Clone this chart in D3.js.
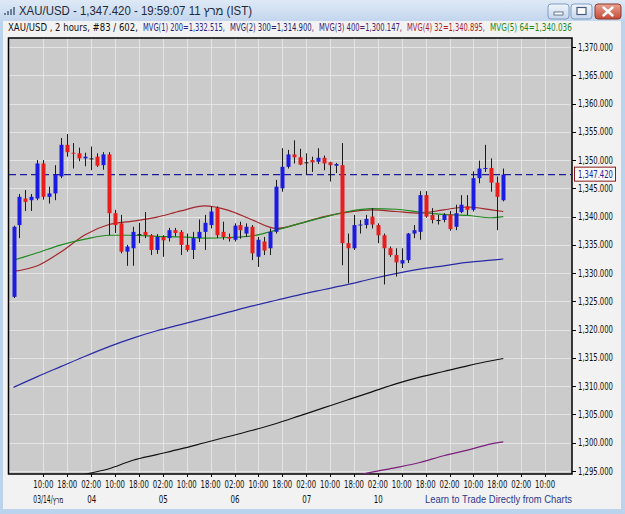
<!DOCTYPE html>
<html>
<head>
<meta charset="utf-8">
<script src="https://cdn.jsdelivr.net/npm/d3@7"></script>
<style>
body { margin: 0; background: #fff; }
svg { display: block; }
text { font-family: "Liberation Sans Narrow", "DejaVu Sans Condensed", "Liberation Sans", sans-serif; }
</style>
</head>
<body>
<div id="chart"></div>
<script>
// 2 hour candles, XAU/USD, 03 - 11 March 2014
var opens  = [1325.8,1338.5,1343.2,1342.9,1343.2,1349.4,1343.5,1344.1,1347.1,1352.7,1351.3,1351.2,1350.3,1350.3,1350.6,1349.1,1351.0,1340.6,1338.8,1333.8,
              1334.4,1336.9,1337.3,1336.7,1334.1,1336.4,1336.2,1337.6,1337.3,1335.0,1334.1,1336.2,1337.3,1338.5,1341.5,1337.3,1336.4,1335.9,1338.5,1337.0,
              1338.2,1332.9,1335.6,1334.4,1337.3,1345.0,1348.8,1351.0,1350.5,1349.6,1350.0,1349.7,1350.4,1349.6,1349.0,1349.1,1335.3,1334.4,1338.5,1338.5,
              1340.0,1338.5,1336.7,1334.4,1333.2,1331.7,1332.3,1337.0,1337.3,1343.8,1340.3,1339.4,1339.4,1340.4,1338.2,1340.8,1341.8,1341.2,1346.8,1348.5,
              1348.6,1346.0,1342.9];
var highs  = [1338.4,1344.0,1344.7,1344.0,1350.0,1350.0,1345.3,1349.1,1353.9,1354.6,1353.0,1352.2,1351.3,1352.4,1351.2,1351.4,1351.4,1341.2,1340.3,1335.0,
              1338.2,1338.9,1340.8,1336.9,1336.9,1336.7,1338.0,1338.0,1337.6,1337.0,1337.3,1339.5,1340.3,1341.8,1341.8,1339.1,1337.0,1338.8,1339.1,1338.8,
              1338.5,1336.4,1336.4,1337.9,1346.5,1352.1,1351.8,1353.5,1352.0,1351.2,1350.6,1352.1,1350.8,1349.7,1349.5,1353.0,1337.0,1340.3,1339.4,1340.3,
              1341.5,1338.8,1337.0,1334.7,1334.4,1334.4,1337.1,1338.5,1344.5,1344.5,1341.5,1340.3,1340.6,1341.0,1342.1,1343.8,1343.8,1348.0,1349.9,1352.7,
              1350.3,1347.1,1348.5];
var lows   = [1325.6,1336.2,1341.0,1341.0,1342.9,1343.0,1342.3,1342.9,1346.8,1350.6,1348.5,1349.8,1348.9,1348.2,1348.8,1348.3,1336.7,1337.1,1333.5,1331.3,
              1331.3,1335.3,1336.2,1333.2,1333.4,1332.9,1335.6,1336.5,1333.2,1333.8,1332.5,1335.5,1334.1,1337.9,1336.2,1335.9,1335.6,1335.6,1336.1,1336.4,
              1332.3,1331.1,1333.2,1333.2,1337.0,1344.4,1348.5,1349.4,1349.1,1347.4,1347.9,1349.3,1348.2,1346.2,1347.7,1331.4,1328.2,1334.1,1337.0,1337.9,
              1337.9,1335.3,1328.0,1332.9,1329.4,1330.9,1331.8,1336.2,1335.9,1339.8,1338.8,1338.6,1339.0,1337.5,1337.6,1340.6,1340.3,1340.9,1345.9,1347.9,
              1344.4,1337.6,1342.7];
var closes = [1338.2,1343.5,1342.6,1343.5,1349.4,1343.5,1344.1,1347.4,1352.7,1351.4,1351.2,1350.3,1350.6,1350.3,1349.0,1351.0,1340.6,1338.5,1333.8,1334.7,
              1337.3,1336.9,1336.7,1334.1,1336.4,1335.8,1337.6,1337.1,1335.0,1334.1,1336.2,1337.3,1338.9,1340.9,1336.7,1336.4,1336.1,1338.4,1337.6,1338.2,
              1333.5,1335.9,1334.0,1337.3,1345.3,1348.8,1351.0,1350.5,1349.2,1349.6,1349.6,1350.4,1349.4,1349.1,1349.3,1335.3,1334.4,1338.5,1338.6,1339.6,
              1338.6,1336.7,1334.4,1333.2,1331.9,1332.3,1337.0,1337.6,1343.8,1340.0,1339.4,1339.4,1340.3,1337.8,1340.6,1342.1,1341.2,1346.8,1348.5,1348.6,
              1346.0,1343.5,1347.42];

// moving averages read at every 4th bar
var maIndex = [0,4,8,12,16,20,24,28,32,36,40,44,48,52,56,60,64,68,72,76,80,82];
var ma200 = [1309.8,1311.7,1313.5,1315.3,1317.0,1318.5,1319.8,1320.9,1322.0,1323.1,1324.2,1325.2,1326.2,1327.1,1328.0,1329.0,1329.9,1330.7,1331.3,1331.9,1332.3,1332.5];
var ma300 = [null,null,1293.2,1294.4,1295.4,1296.9,1297.9,1298.9,1300.0,1301.1,1302.2,1303.4,1304.8,1306.2,1307.6,1309.0,1310.4,1311.6,1312.6,1313.6,1314.5,1314.9];
var ma400 = [null,null,null,null,null,null,null,null,null,null,null,null,null,null,1293.8,1294.8,1295.6,1296.5,1297.7,1298.7,1299.8,1300.15];
var ma32  = [1330.3,1331.3,1333.8,1336.8,1338.6,1339.2,1339.9,1341.0,1341.9,1341.1,1339.4,1337.9,1338.8,1340.0,1340.8,1341.2,1340.9,1340.6,1341.2,1341.7,1341.2,1340.9];
var ma64  = [1332.3,1333.6,1335.0,1336.0,1336.7,1336.7,1336.5,1336.4,1336.2,1336.3,1336.6,1337.6,1338.8,1339.9,1340.9,1341.4,1341.3,1340.8,1340.4,1340.2,1339.8,1340.0];

var lastPrice = 1347.42;

var timeTicks  = [5,9,13,17,21,25,29,33,37,41,45,49,53,57,61,65,69,73,77,81,85,89];
var timeLabels = ["10:00","18:00","02:00","10:00","18:00","02:00","10:00","18:00","02:00","10:00","18:00",
                  "02:00","10:00","18:00","02:00","10:00","18:00","02:00","10:00","18:00","02:00","10:00"];
var dayTicks  = [5,13,25,37,49,61];
var dayLabels = ["03/14/מרץ","04","05","06","07","10"];
var priceTicks = [1295,1300,1305,1310,1315,1320,1325,1330,1335,1340,1345,1350,1355,1360,1365,1370];

var headerText  = ["XAU/USD , 2 hours, #83 / 602,", "MVG(1) 200=1,332.515,", "MVG(2) 300=1,314.900,",
                   "MVG(3) 400=1,300.147,", "MVG(4) 32=1,340.895,", "MVG(5) 64=1,340.036"];
var headerColor = ["#111111", "#25258f", "#1f1f6a", "#452070", "#b01c1c", "#1f8a1f"];
var headerX     = [8, 143, 230, 319, 407, 490, 577];

var W = 625, H = 514;
var plot = {left: 9, right: 572, top: 38, bottom: 474};
var fmt = d3.format(",.3f");

var svg = d3.select("#chart").append("svg")
	.attr("width", W)
	.attr("height", H)
	.attr("viewBox", [0, 0, W, H]);

var defs = svg.append("defs");
var tg = defs.append("linearGradient").attr("id", "titleGrad").attr("x1", 0).attr("y1", 0).attr("x2", 0).attr("y2", 1);
tg.append("stop").attr("offset", "0%").attr("stop-color", "#dfe9f6");
tg.append("stop").attr("offset", "100%").attr("stop-color", "#c3d6ee");
var bg = defs.append("linearGradient").attr("id", "btnGrad").attr("x1", 0).attr("y1", 0).attr("x2", 0).attr("y2", 1);
bg.append("stop").attr("offset", "0%").attr("stop-color", "#f2f6fb");
bg.append("stop").attr("offset", "100%").attr("stop-color", "#c4d5ea");
var cg = defs.append("linearGradient").attr("id", "closeGrad").attr("x1", 0).attr("y1", 0).attr("x2", 0).attr("y2", 1);
cg.append("stop").attr("offset", "0%").attr("stop-color", "#e8a293");
cg.append("stop").attr("offset", "100%").attr("stop-color", "#c74a36");
defs.append("clipPath").attr("id", "plotClip")
	.append("rect")
		.attr("x", plot.left).attr("y", plot.top)
		.attr("width", plot.right - plot.left).attr("height", plot.bottom - plot.top);

// Window frame and title bar
svg.append("rect").attr("width", W).attr("height", H).attr("fill", "#bcd3ee");
svg.append("rect").attr("width", W).attr("height", 21).attr("fill", "url(#titleGrad)");
svg.append("rect").attr("x", 3).attr("y", 21).attr("width", W - 7).attr("height", H - 26).attr("fill", "#f2f2f2");

var icon = svg.append("g").attr("fill", "#6a7f99");
[2, 4, 6, 8].forEach(function(h, i) {
	icon.append("rect").attr("x", 4 + i * 3).attr("y", 15 - h).attr("width", 2).attr("height", h);
});

svg.append("text")
	.attr("x", 19)
	.attr("y", 15)
	.attr("textLength", 233)
	.attr("lengthAdjust", "spacingAndGlyphs")
	.style("font-family", "'Liberation Sans', sans-serif")
	.style("font-size", "12px")
	.attr("fill", "#1e2a3a")
	.text("XAU/USD - 1,347.420 - 19:59:07  11 מרץ (IST)");

// window buttons
svg.append("rect").attr("x", 548).attr("y", 4).attr("width", 21).attr("height", 15).attr("rx", 3)
	.attr("fill", "url(#btnGrad)").attr("stroke", "#7f9cc3");
svg.append("rect").attr("x", 554).attr("y", 12).attr("width", 9).attr("height", 3).attr("fill", "#fff").attr("stroke", "#46597a").attr("stroke-width", 0.8);
svg.append("rect").attr("x", 571).attr("y", 4).attr("width", 21).attr("height", 15).attr("rx", 3)
	.attr("fill", "url(#btnGrad)").attr("stroke", "#7f9cc3");
svg.append("rect").attr("x", 577).attr("y", 7.5).attr("width", 9).attr("height", 7).attr("fill", "#fff").attr("stroke", "#46597a").attr("stroke-width", 1.2);
svg.append("rect").attr("x", 595).attr("y", 4).attr("width", 26).attr("height", 15).attr("rx", 3)
	.attr("fill", "url(#closeGrad)").attr("stroke", "#8a3a2f");
svg.append("path").attr("d", "M603.5,7.5 L612.5,15.5 M612.5,7.5 L603.5,15.5")
	.attr("stroke", "#fff").attr("stroke-width", 2.4).attr("stroke-linecap", "round");

// header line with moving average values, each segment squeezed to its slot
svg.append("g")
	.selectAll("text")
	.data(headerText)
	.join("text")
		.attr("x", 0)
		.attr("y", 0)
		.style("font-size", "10px")
		.attr("fill", (d, i) => headerColor[i])
		.text(d => d)
		.attr("transform", function(d, i) {
			var want = headerX[i + 1] - headerX[i] - 5;
			var have = this.getComputedTextLength();
			return "translate(" + headerX[i] + ",31) scale(" + Math.min(1, want / have) + ",1)";
		});

// Scales
var x = d3.scaleLinear().domain([0, 82]).range([13.5, 503.3]);
var y = d3.scaleLinear().domain([1295, 1370]).range([471, 47]);

svg.append("rect")
	.attr("x", plot.left).attr("y", plot.top)
	.attr("width", plot.right - plot.left).attr("height", plot.bottom - plot.top)
	.attr("fill", "#cbcbcb");

// grid
var grid = svg.append("g").attr("stroke", "#e4e4e4").attr("stroke-width", 1);
grid.selectAll(".hg")
	.data(priceTicks)
	.join("line")
		.attr("x1", plot.left).attr("x2", plot.right)
		.attr("y1", d => Math.round(y(d)) + 0.5).attr("y2", d => Math.round(y(d)) + 0.5);
grid.selectAll(".vg")
	.data(timeTicks)
	.join("line")
		.attr("x1", d => Math.round(x(d)) + 0.5).attr("x2", d => Math.round(x(d)) + 0.5)
		.attr("y1", plot.top).attr("y2", plot.bottom);

// plot frame
svg.append("path")
	.attr("d", "M" + (plot.left - 0.5) + "," + plot.bottom + " V" + plot.top + " H" + plot.right + " V" + plot.bottom + " Z")
	.attr("fill", "none").attr("stroke", "#000").attr("stroke-width", 1.5);

// moving averages
var maSeries = [
	{v: ma200, c: "#2a2aa6"},
	{v: ma300, c: "#111111"},
	{v: ma400, c: "#7c1f7c"},
	{v: ma32,  c: "#a3262a"},
	{v: ma64,  c: "#1f8a1f"}
];
var maLine = d3.line()
	.defined(d => d[1] !== null)
	.x(d => x(d[0]))
	.y(d => y(d[1]))
	.curve(d3.curveMonotoneX);

svg.append("g")
	.attr("clip-path", "url(#plotClip)")
	.selectAll("path")
	.data(maSeries)
	.join("path")
		.attr("d", s => maLine(maIndex.map((k, i) => [k, s.v[i]])))
		.attr("fill", "none")
		.attr("stroke", s => s.c)
		.attr("stroke-width", 1.2);

// current price line
svg.append("line")
	.attr("x1", plot.left).attr("x2", plot.right)
	.attr("y1", y(lastPrice)).attr("y2", y(lastPrice))
	.attr("stroke", "#1d1d9a")
	.attr("stroke-width", 1.4)
	.attr("stroke-dasharray", "7,4");

// candles
var bars = d3.range(opens.length);
var candles = svg.append("g");
candles.selectAll(".wick")
	.data(bars)
	.join("line")
		.attr("class", "wick")
		.attr("x1", i => Math.round(x(i)) + 0.5).attr("x2", i => Math.round(x(i)) + 0.5)
		.attr("y1", i => y(highs[i])).attr("y2", i => y(lows[i]))
		.attr("stroke", "#1a1a1a")
		.attr("stroke-width", 1);
candles.selectAll(".body")
	.data(bars)
	.join("rect")
		.attr("class", "body")
		.attr("x", i => Math.round(x(i)) - 1.5)
		.attr("y", i => y(Math.max(opens[i], closes[i])))
		.attr("width", 4)
		.attr("height", i => Math.max(1, Math.abs(y(opens[i]) - y(closes[i]))))
		.attr("fill", i => closes[i] > opens[i] ? "#1c1ce0" : (closes[i] < opens[i] ? "#e81e1e" : "#1a1a1a"));

// y axis
var ya = svg.append("g");
ya.selectAll("line")
	.data(priceTicks)
	.join("line")
		.attr("x1", plot.right).attr("x2", plot.right + 4)
		.attr("y1", d => Math.round(y(d)) + 0.5).attr("y2", d => Math.round(y(d)) + 0.5)
		.attr("stroke", "#000");
ya.selectAll("text")
	.data(priceTicks)
	.join("text")
		.attr("x", plot.right + 6)
		.attr("y", d => y(d) + 3.5)
		.attr("textLength", 35)
		.attr("lengthAdjust", "spacingAndGlyphs")
		.style("font-size", "10px")
		.attr("fill", "#111")
		.text(d => fmt(d));

// last price tag
svg.append("rect")
	.attr("x", plot.right + 2.5).attr("y", y(lastPrice) - 7.5)
	.attr("width", 41).attr("height", 14)
	.attr("fill", "#fafafa")
	.attr("stroke", "#8b1c1c");
svg.append("text")
	.attr("x", plot.right + 6)
	.attr("y", y(lastPrice) + 3.5)
	.attr("textLength", 35)
	.attr("lengthAdjust", "spacingAndGlyphs")
	.style("font-size", "10px")
	.attr("fill", "#22229a")
	.text(fmt(lastPrice));

// x axis
var xa = svg.append("g");
xa.selectAll("line")
	.data(timeTicks)
	.join("line")
		.attr("x1", d => Math.round(x(d)) + 0.5).attr("x2", d => Math.round(x(d)) + 0.5)
		.attr("y1", plot.bottom).attr("y2", plot.bottom + 3)
		.attr("stroke", "#000");
xa.selectAll(".tl")
	.data(timeLabels)
	.join("text")
		.attr("class", "tl")
		.attr("x", (d, i) => x(timeTicks[i]) - 10)
		.attr("y", 488)
		.attr("textLength", 20)
		.attr("lengthAdjust", "spacingAndGlyphs")
		.style("font-size", "10px")
		.attr("fill", "#111")
		.text(d => d);
xa.selectAll(".dl")
	.data(dayLabels)
	.join("text")
		.attr("class", "dl")
		.attr("x", (d, i) => i == 0 ? x(dayTicks[i]) - 10 : x(dayTicks[i]) - 4)
		.attr("y", 503)
		.attr("textLength", (d, i) => i == 0 ? 30 : 9)
		.attr("lengthAdjust", "spacingAndGlyphs")
		.style("font-size", "10px")
		.attr("fill", "#111")
		.text(d => d);

svg.append("text")
	.attr("x", 425)
	.attr("y", 503)
	.attr("textLength", 147)
	.attr("lengthAdjust", "spacingAndGlyphs")
	.style("font-family", "'Liberation Sans', sans-serif")
	.style("font-size", "11px")
	.attr("fill", "#2b3990")
	.text("Learn to Trade Directly from Charts");
</script>
</body>
</html>
